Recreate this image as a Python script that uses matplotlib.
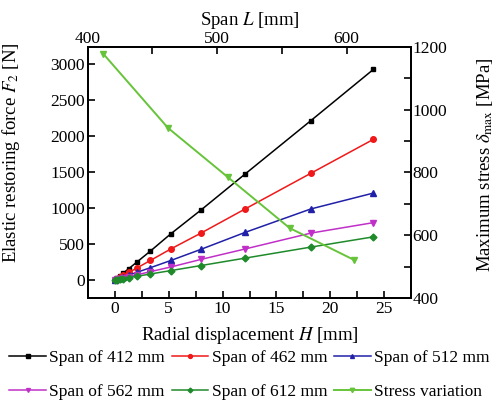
import matplotlib
matplotlib.use("Agg")
import matplotlib.pyplot as plt
from matplotlib.ticker import MultipleLocator

plt.rcParams['font.family'] = ['Liberation Serif', 'DejaVu Serif']
plt.rcParams['mathtext.fontset'] = 'stix'

TICK_FS = 12.5
LABEL_FS = 13.5

# Radial displacement H [mm]
H = [0, 0.25, 0.5, 0.8, 1.3, 2.1, 3.3, 5.2, 8.0, 12.1, 18.2, 24.0]

# Elastic restoring force F2 [N] for each span
F_412 = [0, 30, 60, 97, 157, 254, 400, 640, 970, 1470, 2210, 2920]
F_462 = [0, 20, 40, 65, 105, 170, 270, 430, 650, 985, 1480, 1950]
F_512 = [0, 13, 26, 42, 68, 108, 170, 270, 425, 660, 985, 1205]
F_562 = [0, 9, 18, 28, 46, 73, 115, 180, 285, 430, 650, 795]
F_612 = [0, 6, 12, 20, 33, 52, 83, 130, 200, 303, 456, 598]

# Maximum stress vs span
span_L = [412, 462, 508, 556, 606]
stress = [1178, 942, 786, 623, 521]

labels = ["Span of 412 mm", "Span of 462 mm", "Span of 512 mm",
          "Span of 562 mm", "Span of 612 mm", "Stress variation"]

fig = plt.figure(figsize=(4.99, 4.0), dpi=100)
ax = fig.add_axes([0.176, 0.255, 0.648, 0.6275])

styles = [
    (F_412, 'black', 's', 3.5),
    (F_462, '#f01818', 'o', 4),
    (F_512, '#2020a8', '^', 4),
    (F_562, '#c030c8', 'v', 4),
    (F_612, '#1e8a2a', 'D', 3.5),
]
handles = []
for (F, c, m, ms), lab in zip(styles, labels[:5]):
    h, = ax.plot(H, F, color=c, marker=m, markersize=ms, linewidth=1.1, label=lab)
    handles.append(h)

ax.set_xlim(-2.5, 27.5)
ax.set_ylim(-250, 3230)
ax.xaxis.set_major_locator(MultipleLocator(5))
ax.xaxis.set_minor_locator(MultipleLocator(2.5))
ax.set_yticks([0, 500, 1000, 1500, 2000, 2500, 3000])
ax.set_xlabel("Radial displacement $\\mathit{H}$ [mm]", fontsize=LABEL_FS, labelpad=6)
ax.set_ylabel("Elastic restoring force $\\mathit{F}_2$ [N]", fontsize=LABEL_FS)
ax.yaxis.set_label_coords(-0.204, 0.58)
ax.tick_params(axis='both', which='both', direction='in', top=False, right=False,
               labelsize=TICK_FS, width=1.2, length=5, pad=2)

# Right axis: maximum stress
ax_r = ax.twinx()
ax_r.set_ylim(400, 1200)
ax_r.yaxis.set_major_locator(MultipleLocator(200))
ax_r.yaxis.set_minor_locator(MultipleLocator(100))
ax_r.tick_params(axis='y', which='both', direction='in', length=5, width=1.2,
                 labelsize=TICK_FS, pad=1)
ax_r.set_ylabel("Maximum stress $\\delta_{\\mathrm{max}}$ [MPa]", fontsize=LABEL_FS)
ax_r.yaxis.set_label_coords(1.198, 0.53)

# Top axis: span
ax_t = ax_r.twiny()
ax_t.set_xlim(400, 650)
ax_t.xaxis.set_major_locator(MultipleLocator(100))
ax_t.xaxis.set_minor_locator(MultipleLocator(50))
ax_t.tick_params(axis='x', which='both', direction='in', length=5, width=1.2,
                 labelsize=TICK_FS, pad=0)
ax_t.set_xlabel("Span $\\mathit{L}$ [mm]", fontsize=LABEL_FS, labelpad=4)
hs, = ax_t.plot(span_L, stress, color='#66c43a', marker='v', markersize=4.5,
                linewidth=1.4, label=labels[5])
handles.append(hs)

for a in (ax, ax_r, ax_t):
    for s in a.spines.values():
        s.set_linewidth(1.2)

order = [0, 3, 1, 4, 2, 5]
fig.legend([handles[i] for i in order], [labels[i] for i in order],
           loc='lower center', bbox_to_anchor=(0.5, -0.04), ncol=3, frameon=False,
           fontsize=12.5, handlelength=2.1, handletextpad=0.2, columnspacing=0.4,
           labelspacing=1.05, markerscale=0.7)

fig.savefig("out.png", dpi=100)
